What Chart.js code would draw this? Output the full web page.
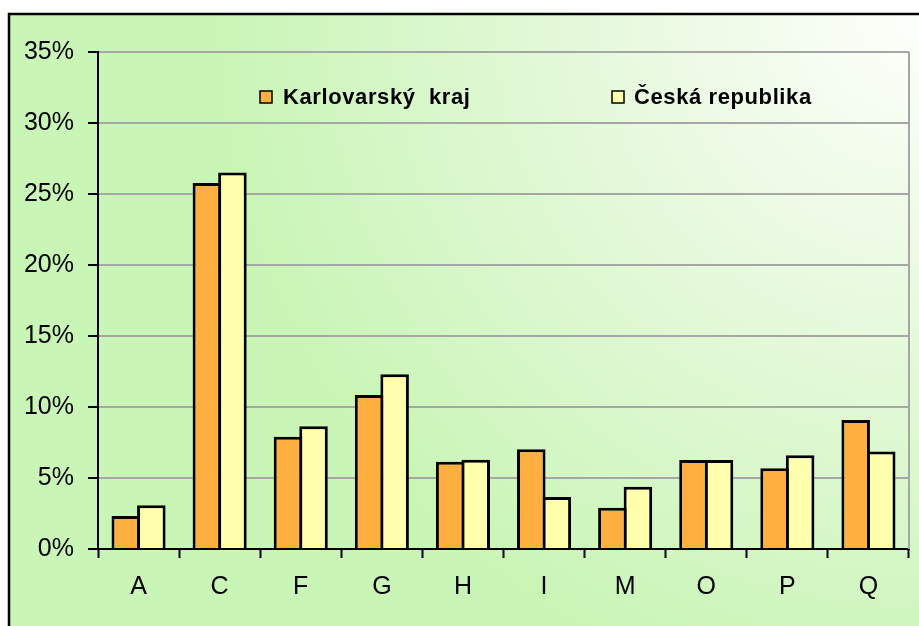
<!DOCTYPE html>
<html>
<head>
<meta charset="utf-8">
<script src="https://cdn.jsdelivr.net/npm/chart.js@4.4.1/dist/chart.umd.min.js"></script>
<style>
  html, body { margin: 0; padding: 0; background: #fff; }
  canvas { display: block; }
</style>
</head>
<body>
<canvas id="c" width="919" height="626"></canvas>
<script>
const categories = ['A', 'C', 'F', 'G', 'H', 'I', 'M', 'O', 'P', 'Q'];
const karlovarsky = [2.33, 25.77, 7.91, 10.85, 6.15, 7.03, 2.91, 6.27, 5.69, 9.09];
const ceskaRepublika = [3.08, 26.52, 8.65, 12.31, 6.29, 3.66, 4.39, 6.27, 6.60, 6.86];
const seriesNames = ['Karlovarský  kraj', 'Česká republika'];
const yTicks = [0, 5, 10, 15, 20, 25, 30, 35];

const FONT = '"Liberation Sans", Arial, sans-serif';

const bgPlugin = {
  id: 'bg',
  beforeDraw(chart) {
    const ctx = chart.ctx;
    const W = chart.width, H = chart.height;
    ctx.save();
    ctx.fillStyle = '#ffffff';
    ctx.fillRect(0, 0, W, H);
    const g = ctx.createRadialGradient(919, 13, 0, 919, 13, 700);
    g.addColorStop(0, '#fdfffb');
    g.addColorStop(0.35, '#ecfae4');
    g.addColorStop(1, '#c9f5b6');
    ctx.fillStyle = g;
    ctx.fillRect(9, 14, W, H);
    ctx.strokeStyle = '#000';
    ctx.lineWidth = 2.5;
    ctx.strokeRect(9, 14, W + 20, H + 20);
    ctx.restore();
  },
  beforeDatasetsDraw(chart) {
    const ctx = chart.ctx, a = chart.chartArea;
    ctx.save();
    ctx.strokeStyle = '#a6a6a6';
    ctx.lineWidth = 2;
    ctx.beginPath();
    ctx.moveTo(a.right, a.top);
    ctx.lineTo(a.right, a.bottom);
    ctx.stroke();
    ctx.restore();
  },
  afterDraw(chart) {
    const ctx = chart.ctx;
    const items = [{x: 260, tx: 283}, {x: 612, tx: 634}];
    const cy = 97;
    ctx.save();
    ctx.font = 'bold 22px ' + FONT;
    ctx.textBaseline = 'middle';
    ctx.textAlign = 'left';
    if ('letterSpacing' in ctx) ctx.letterSpacing = '0.6px';
    chart.data.datasets.forEach((ds, i) => {
      const it = items[i];
      ctx.fillStyle = ds.backgroundColor;
      ctx.fillRect(it.x, cy - 6, 12, 12);
      ctx.strokeStyle = '#000';
      ctx.lineWidth = 1.5;
      ctx.strokeRect(it.x, cy - 6, 12, 12);
      ctx.fillStyle = '#000';
      ctx.fillText(ds.label, it.tx, cy + 1);
    });
    ctx.restore();
  }
};

new Chart(document.getElementById('c'), {
  type: 'bar',
  data: {
    labels: categories,
    datasets: [
      { label: seriesNames[0], data: karlovarsky, backgroundColor: '#FFAF40', borderColor: '#000', borderWidth: 3 },
      { label: seriesNames[1], data: ceskaRepublika, backgroundColor: '#FFFFAD', borderColor: '#000', borderWidth: 3 }
    ]
  },
  options: {
    responsive: false,
    animation: false,
    devicePixelRatio: 1,
    layout: { padding: { left: 0, right: 10, top: 52, bottom: 0 } },
    datasets: { bar: { categoryPercentage: 0.63, barPercentage: 1.117 } },
    plugins: { legend: { display: false }, title: { display: false }, tooltip: { enabled: false } },
    scales: {
      x: {
        afterFit(s) { s.height = 77; },
        grid: { display: true, drawOnChartArea: false, tickLength: 9, tickColor: '#000', tickWidth: 2, offset: true },
        border: { color: '#000', width: 2 },
        ticks: { color: '#000', font: { family: FONT, size: 25 }, padding: 14 }
      },
      y: {
        min: 0, max: 35,
        afterFit(s) { s.width = 98; },
        afterBuildTicks(s) { s.ticks = yTicks.map(v => ({ value: v })); },
        grid: {
          color: ctx => ctx.tick && ctx.tick.value === 0 ? 'rgba(0,0,0,0)' : '#a6a6a6',
          lineWidth: 2, tickLength: 10, tickColor: '#000', tickWidth: 2
        },
        border: { color: '#000', width: 2 },
        ticks: { color: '#000', font: { family: FONT, size: 25 }, padding: 14, callback: v => v + '%' }
      }
    }
  },
  plugins: [bgPlugin]
});
</script>
</body>
</html>
